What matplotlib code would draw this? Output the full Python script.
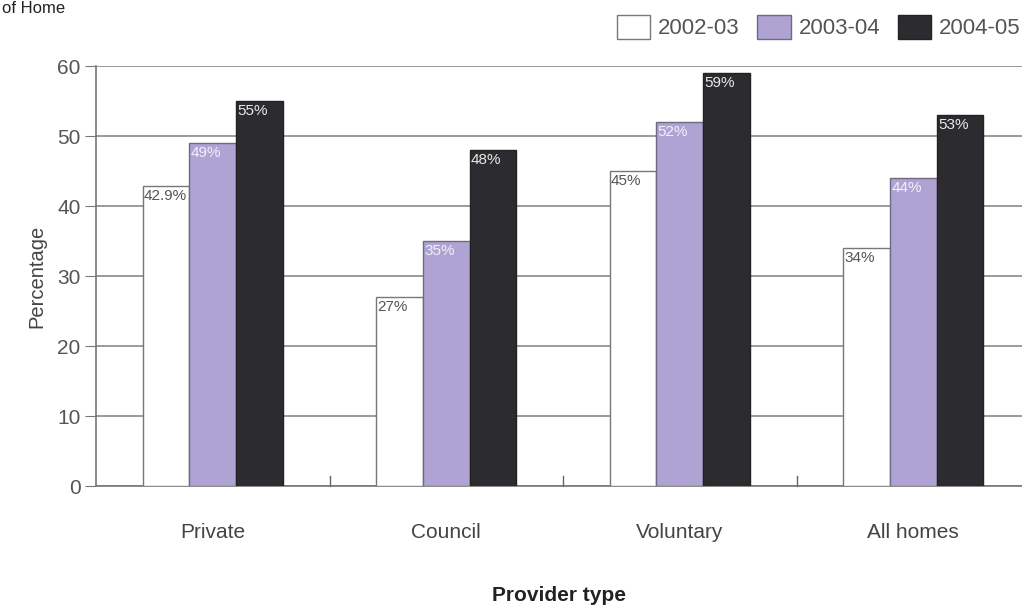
import matplotlib
matplotlib.use("Agg")
import matplotlib.pyplot as plt
import numpy as np

categories = ["Private", "Council", "Voluntary", "All homes"]
years = ["2002-03", "2003-04", "2004-05"]
v_2002 = [42.9, 27, 45, 34]
v_2003 = [49, 35, 52, 44]
v_2004 = [55, 48, 59, 53]
labels_2002 = ["42.9%", "27%", "45%", "34%"]
labels_2003 = ["49%", "35%", "52%", "44%"]
labels_2004 = ["55%", "48%", "59%", "53%"]

plt.rcParams['font.family'] = ['Liberation Sans', 'DejaVu Sans']

fig = plt.figure(figsize=(10.22, 6.07), dpi=100)
ax = fig.add_axes([96/1022, 121/607, 1 - 96/1022, 420/607])

x = np.arange(len(categories))
w = 0.2
series = [v_2002, v_2003, v_2004]
labs = [labels_2002, labels_2003, labels_2004]
faces = ["white", "#afa3d3", "#2c2b2f"]
edges = ["#777777", "#6f6a80", "#222222"]
txtc = ["#555555", "#f2f0fa", "#e8e8e8"]

for i, (vals, lab) in enumerate(zip(series, labs)):
    pos = x + (i - 1) * w
    ax.bar(pos, vals, width=w, color=faces[i], edgecolor=edges[i], linewidth=1.0,
           label=years[i], zorder=3)
    for p, v, t in zip(pos, vals, lab):
        ax.text(p - w/2 + 0.006, v - 0.4, t, ha='left', va='top', fontsize=11,
                color=txtc[i], zorder=4)

ax.set_ylim(0, 60)
ax.set_xlim(-0.5, (1022 - 96) / 233.5 - 0.5)
ax.set_yticks(range(0, 61, 10))
ax.yaxis.grid(True, color="#8a8a8a", linewidth=1.2, zorder=0)
ax.set_axisbelow(True)
for s in ["top", "right"]:
    ax.spines[s].set_visible(False)
for s in ["left", "bottom"]:
    ax.spines[s].set_color("#777777")
    ax.spines[s].set_linewidth(1.2)
ax.tick_params(axis='y', length=8, color="#777777", labelsize=15, labelcolor="#555555", pad=3)

ax.set_xticks(x)
ax.set_xticklabels(categories, fontsize=15, color="#444444")
ax.tick_params(axis='x', length=0, pad=27)
for b in [0.5, 1.5, 2.5]:
    ax.plot([b, b], [0, 1.4], color="#666666", lw=1, zorder=2, clip_on=False)

ax.set_ylabel("Percentage", fontsize=14.5, color="#444444", labelpad=8)
ax.set_xlabel("Provider type", fontsize=15, fontweight='bold', color="#222222", labelpad=31)

leg = ax.legend(loc='upper right', bbox_to_anchor=(1.02, 1.17), ncol=3, frameon=False,
                fontsize=16, handlelength=1.5, handleheight=1.3, handletextpad=0.35,
                columnspacing=0.8, labelcolor="#555555")

fig.text(0.002, 0.998, "of Home", fontsize=12, color="#222222", ha='left', va='top')

fig.savefig("out.png", dpi=100)
